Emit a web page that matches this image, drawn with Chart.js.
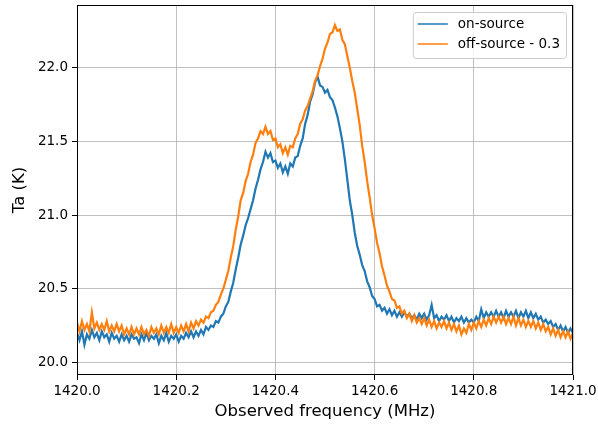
<!DOCTYPE html>
<html>
<head>
<meta charset="utf-8">
<script src="https://cdn.jsdelivr.net/npm/chart.js@4.4.1/dist/chart.umd.min.js"></script>
<style>
html,body{margin:0;padding:0;background:#fff;}
#wrap{width:598px;height:426px;}
</style>
</head>
<body>
<div id="wrap"><canvas id="spec" width="598" height="426"></canvas></div>
<script>
/* spectrum channels: 1420.000 .. 1421.000 MHz every 5 kHz */
const freqStart = 1420.0;
const freqStep = 0.005;

const onSource = [
20.20,20.15,20.21,20.12,20.19,20.16,20.22,20.17,20.20,20.15,20.21,20.17,20.19,20.14,20.20,20.16,20.18,20.14,20.19,20.15,
20.18,20.14,20.19,20.16,20.17,20.13,20.19,20.15,20.20,20.15,20.18,20.16,20.19,20.13,20.18,20.15,20.20,20.14,20.18,20.16,
20.19,20.14,20.18,20.16,20.20,20.17,20.21,20.17,20.21,20.18,20.22,20.19,20.24,20.22,20.25,20.24,20.28,20.27,20.31,20.33,
20.38,20.41,20.48,20.54,20.63,20.71,20.80,20.86,20.93,20.98,21.04,21.10,21.18,21.24,21.31,21.36,21.43,21.39,21.42,21.36,
21.37,21.32,21.35,21.29,21.33,21.28,21.35,21.33,21.39,21.40,21.47,21.52,21.62,21.68,21.77,21.82,21.90,21.94,21.88,21.87,
21.83,21.85,21.80,21.78,21.73,21.67,21.59,21.50,21.38,21.24,21.10,21.00,20.88,20.79,20.73,20.66,20.62,20.55,20.51,20.45,
20.43,20.38,20.39,20.35,20.37,20.33,20.36,20.32,20.35,20.31,20.34,20.31,20.34,20.31,20.33,20.30,20.32,20.29,20.33,20.30,
20.33,20.29,20.32,20.39,20.30,20.32,20.28,20.31,20.29,20.32,20.28,20.31,20.27,20.30,20.28,20.31,20.27,20.30,20.27,20.29,
20.27,20.31,20.28,20.36,20.30,20.34,20.31,20.34,20.31,20.35,20.31,20.34,20.30,20.35,20.31,20.34,20.31,20.35,20.30,20.34,
20.31,20.35,20.30,20.34,20.30,20.33,20.29,20.31,20.27,20.29,20.26,20.28,20.24,20.26,20.22,20.25,20.21,20.24,20.20,20.23,
20.20
];

const offSourceMinus03 = [
20.27,20.21,20.28,20.22,20.26,20.21,20.34,20.23,20.27,20.22,20.26,20.22,20.28,20.21,20.25,20.21,20.26,20.21,20.25,20.19,
20.23,20.19,20.24,20.19,20.23,20.19,20.24,20.19,20.22,20.18,20.24,20.20,20.23,20.19,20.25,20.20,20.24,20.20,20.26,20.20,
20.24,20.20,20.25,20.21,20.26,20.21,20.27,20.23,20.28,20.25,20.29,20.27,20.31,20.30,20.34,20.35,20.39,20.41,20.46,20.50,
20.56,20.62,20.71,20.79,20.90,20.99,21.10,21.15,21.23,21.28,21.36,21.41,21.49,21.52,21.57,21.55,21.60,21.55,21.57,21.51,
21.52,21.46,21.48,21.42,21.46,21.41,21.47,21.46,21.52,21.55,21.62,21.65,21.71,21.74,21.79,21.84,21.91,21.95,22.01,22.06,
22.13,22.17,22.23,22.24,22.29,22.25,22.26,22.19,22.16,22.08,22.00,21.91,21.83,21.72,21.61,21.47,21.36,21.23,21.12,21.00,
20.91,20.81,20.74,20.65,20.59,20.52,20.48,20.43,20.42,20.37,20.38,20.33,20.35,20.30,20.33,20.28,20.32,20.27,20.30,20.26,
20.30,20.25,20.29,20.24,20.28,20.23,20.27,20.24,20.28,20.23,20.27,20.22,20.26,20.21,20.25,20.19,20.23,20.20,20.26,20.22,
20.27,20.23,20.28,20.24,20.29,20.25,20.30,20.26,20.31,20.27,20.31,20.27,20.31,20.26,20.30,20.26,20.31,20.25,20.30,20.25,
20.29,20.24,20.28,20.24,20.28,20.23,20.27,20.22,20.26,20.21,20.24,20.19,20.23,20.18,20.22,20.17,20.21,20.17,20.21,20.16,
20.20
];

const xTicks = [1420.0, 1420.2, 1420.4, 1420.6, 1420.8, 1421.0];
const yTicks = [20.0, 20.5, 21.0, 21.5, 22.0];
const seriesLabels = ["on-source", "off-source - 0.3"];

const FONT = "'DejaVu Sans', sans-serif";

function toPoints(arr) {
  return arr.map((v, i) => ({ x: freqStart + i * freqStep, y: v }));
}

/* frame + legend drawn the matplotlib way */
const framePlugin = {
  id: "frame",
  afterDatasetsDraw(chart) {
    const a = chart.chartArea;
    const ctx = chart.ctx;
    ctx.save();
    ctx.strokeStyle = "#000";
    ctx.lineWidth = 1;
    ctx.strokeRect(Math.round(a.left) + 0.5, Math.round(a.top) + 0.5,
      Math.round(a.right - a.left) - 1, Math.round(a.bottom - a.top) - 1);
    ctx.restore();
  },
  afterDraw(chart) {
    const a = chart.chartArea;
    const ctx = chart.ctx;
    const sets = chart.data.datasets.slice().sort((p, q) => p.legendIndex - q.legendIndex);
    ctx.save();
    ctx.font = "13.5px " + FONT;
    let tw = 0;
    sets.forEach(d => { tw = Math.max(tw, ctx.measureText(d.label).width); });
    const w = 5 + 30 + 10 + tw + 6;
    const h = 46;
    const x0 = a.right - 7 - w;
    const y0 = a.top + 7;
    ctx.beginPath();
    ctx.roundRect(x0 + 0.5, y0 + 0.5, w, h, 3);
    ctx.fillStyle = "rgba(255,255,255,0.8)";
    ctx.fill();
    ctx.strokeStyle = "#cccccc";
    ctx.lineWidth = 1;
    ctx.stroke();
    sets.forEach((d, i) => {
      const y = y0 + 12 + i * 20;
      ctx.beginPath();
      ctx.moveTo(x0 + 5, y);
      ctx.lineTo(x0 + 35, y);
      ctx.strokeStyle = d.borderColor;
      ctx.lineWidth = 1.5;
      ctx.stroke();
      ctx.fillStyle = "#000";
      ctx.textBaseline = "middle";
      ctx.fillText(d.label, x0 + 45, y);
    });
    ctx.restore();
  }
};

new Chart(document.getElementById("spec"), {
  type: "line",
  data: {
    datasets: [
      {
        label: seriesLabels[0],
        legendIndex: 0,
        data: toPoints(onSource),
        borderColor: "#1f77b4",
        borderWidth: 2.2,
        pointRadius: 0,
        tension: 0,
        order: 1
      },
      {
        label: seriesLabels[1],
        legendIndex: 1,
        data: toPoints(offSourceMinus03),
        borderColor: "#ff7f0e",
        borderWidth: 2.2,
        pointRadius: 0,
        tension: 0,
        order: 0
      }
    ]
  },
  options: {
    responsive: false,
    animation: false,
    events: [],
    layout: { padding: { left: 0, right: 25, top: 5, bottom: 0 } },
    plugins: {
      legend: { display: false },
      tooltip: { enabled: false }
    },
    scales: {
      x: {
        type: "linear",
        min: 1420.0,
        max: 1421.0,
        afterBuildTicks: s => { s.ticks = xTicks.map(v => ({ value: v })); },
        afterFit: s => { s.height = 51; s.paddingLeft = 0; s.paddingRight = 0; },
        border: { display: false },
        grid: { color: "#b0b0b0", lineWidth: 0.8, tickColor: "#000", tickLength: 5, tickWidth: 1 },
        ticks: {
          color: "#000",
          font: { family: FONT, size: 13.5 },
          padding: 3,
          maxRotation: 0,
          callback: v => v.toFixed(1)
        },
        title: {
          display: true,
          text: "Observed frequency (MHz)",
          color: "#000",
          font: { family: FONT, size: 16.5 },
          padding: { top: 0, bottom: 4 }
        }
      },
      y: {
        type: "linear",
        min: 19.914,
        max: 22.426,
        afterBuildTicks: s => { s.ticks = yTicks.map(v => ({ value: v })); },
        afterFit: s => { s.width = 77; s.paddingTop = 0; s.paddingBottom = 0; },
        border: { display: false },
        grid: { color: "#b0b0b0", lineWidth: 0.8, tickColor: "#000", tickLength: 5, tickWidth: 1 },
        ticks: {
          color: "#000",
          font: { family: FONT, size: 13.5 },
          padding: 4,
          callback: v => v.toFixed(1)
        },
        title: {
          display: true,
          text: "Ta (K)",
          color: "#000",
          font: { family: FONT, size: 16.5 },
          padding: { top: 10, bottom: 0 }
        }
      }
    }
  },
  plugins: [framePlugin]
});
</script>
</body>
</html>
